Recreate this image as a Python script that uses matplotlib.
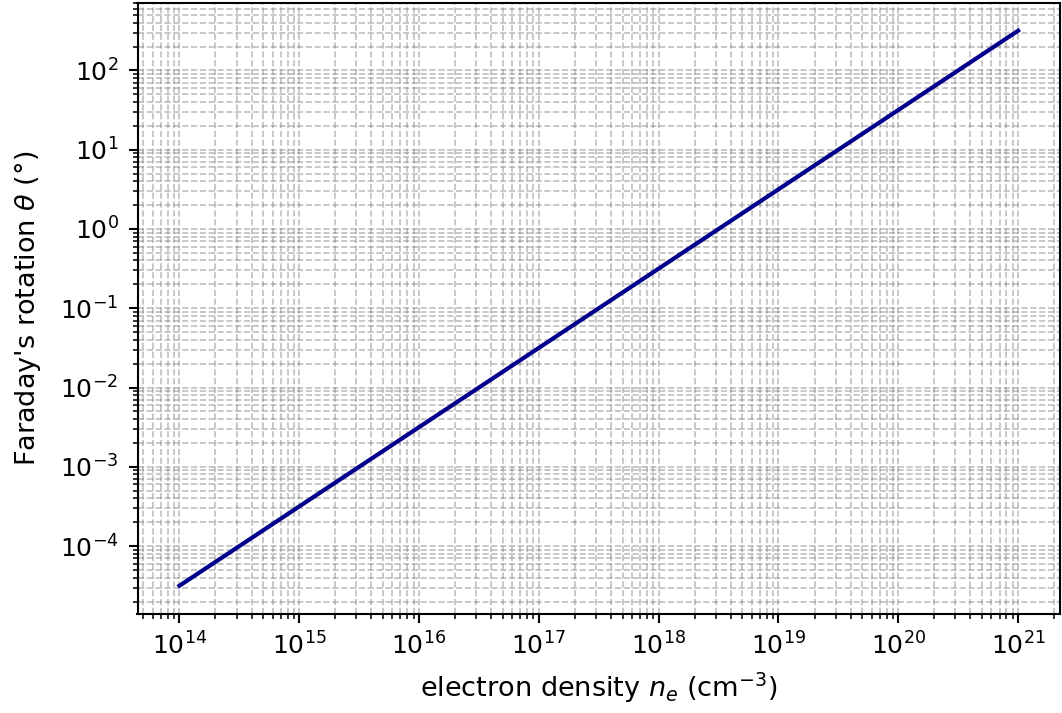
import matplotlib
matplotlib.use("Agg")
import matplotlib.pyplot as plt

# Faraday rotation vs electron density (linear relation, log-log axes)
electron_density = [1e14, 1e21]        # cm^-3
rotation_deg = [3.16e-5, 3.16e2]       # degrees

plt.rcParams.update({
    'axes.linewidth': 1.0,
    'xtick.major.size': 4.5, 'ytick.major.size': 4.5,
    'xtick.minor.size': 2.6, 'ytick.minor.size': 2.6,
    'xtick.major.width': 1.0, 'ytick.major.width': 1.0,
    'xtick.minor.width': 0.75, 'ytick.minor.width': 0.75,
    'xtick.major.pad': 4.6, 'ytick.major.pad': 4.6,
    'xtick.minor.pad': 4.6, 'ytick.minor.pad': 4.6,
    'xtick.labelsize': 12, 'ytick.labelsize': 12,
    'axes.labelsize': 13,
})

fig = plt.figure(figsize=(1062 / 150, 713 / 150), dpi=150)
ax = fig.add_axes([137.5 / 1062, 1 - 613.5 / 713, (1060 - 137.5) / 1062, (613.5 - 3) / 713])

ax.loglog(electron_density, rotation_deg, color='darkblue', linewidth=2)
ax.grid(True, which='both', linestyle='--', color='gray', alpha=0.5, linewidth=0.8)

ax.set_xlabel(r'electron density $n_e$ (cm$^{-3}$)', labelpad=5)
ax.set_ylabel(r"Faraday's rotation $\theta$ (°)", labelpad=8)

fig.savefig('out.png', dpi=150)
